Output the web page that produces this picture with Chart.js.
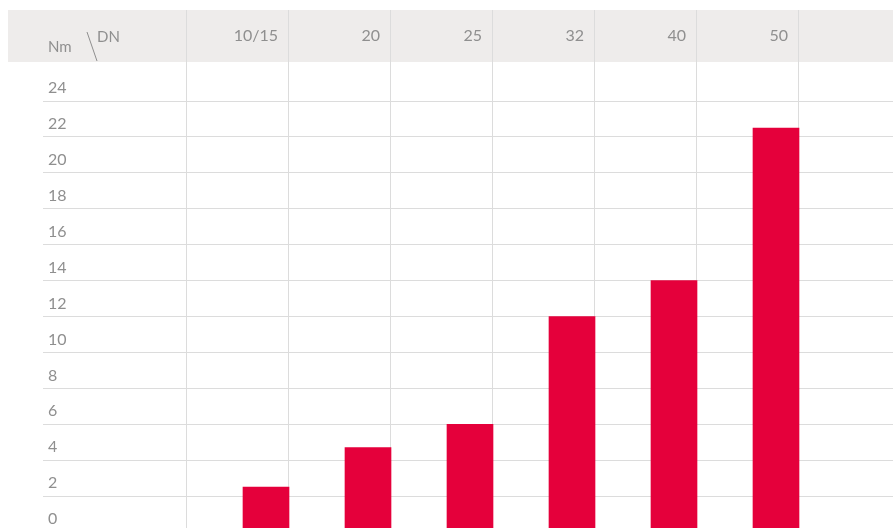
<!DOCTYPE html>
<html>
<head>
<meta charset="utf-8">
<script src="https://cdn.jsdelivr.net/npm/chart.js@4.4.1/dist/chart.umd.min.js"></script>
<style>
  html, body { margin: 0; padding: 0; background: #fff; overflow: hidden; }
  canvas { display: block; }
</style>
</head>
<body>
<canvas id="torqueChart" width="910" height="540"></canvas>
<script>
// DN sizes (last slot is the empty column on the right)
const sizes = ['10/15', '20', '25', '32', '40', '50', ''];
// torque in Nm
const torque = [2.5, 4.7, 6, 12, 14, 22.5];
const yTicks = [0, 2, 4, 6, 8, 10, 12, 14, 16, 18, 20, 22, 24];

const textColor = '#8f8f8f';
const gridColor = '#dcdcdc';
const barColor = '#e5003b';
const fontFamily = 'Lato, "Open Sans", sans-serif';

const headerPlugin = {
    id: 'header',
    beforeDraw(chart) {
        const { ctx, chartArea } = chart;
        ctx.save();
        ctx.fillStyle = '#eeeceb';
        ctx.fillRect(8, chartArea.top, chart.width, 52);
        ctx.restore();
    },
    afterDraw(chart) {
        const { ctx, chartArea } = chart;
        const top = chartArea.top;
        ctx.save();
        ctx.fillStyle = textColor;
        ctx.strokeStyle = textColor;
        ctx.textBaseline = 'middle';
        ctx.textAlign = 'left';
        ctx.font = '15px ' + fontFamily;
        ctx.fillText('Nm', 48, top + 37);
        ctx.fillText('DN', 97, top + 27);
        ctx.lineWidth = 1;
        ctx.beginPath();
        ctx.moveTo(87, top + 22);
        ctx.lineTo(97, top + 51);
        ctx.stroke();
        ctx.restore();
    }
};

function noPadding(scale) {
    scale.paddingTop = 0;
    scale.paddingBottom = 0;
    scale.paddingLeft = 0;
    scale.paddingRight = 0;
}

new Chart(document.getElementById('torqueChart'), {
    type: 'bar',
    data: {
        labels: sizes,
        datasets: [
            { label: '', data: [], backgroundColor: 'transparent' },
            {
                label: 'Nm',
                data: torque,
                backgroundColor: barColor,
                barThickness: 58,
                maxBarThickness: 46
            }
        ]
    },
    options: {
        responsive: false,
        animation: false,
        layout: { padding: { left: 48, top: 10, right: 10, bottom: 8 } },
        plugins: {
            legend: { display: false },
            tooltip: { enabled: false }
        },
        scales: {
            x: {
                position: 'top',
                border: { display: false },
                grid: { color: gridColor, offset: true, drawTicks: false },
                ticks: {
                    mirror: true,
                    align: 'end',
                    padding: 16,
                    labelOffset: 41,
                    color: textColor,
                    font: { family: fontFamily, size: 16 }
                },
                afterFit(scale) { scale.height = 0; noPadding(scale); }
            },
            y: {
                min: 0,
                max: 29.07,
                border: { display: false },
                grid: { color: gridColor, tickLength: 143 },
                afterBuildTicks(scale) {
                    scale.ticks = yTicks.map(v => ({ value: v }));
                },
                ticks: {
                    crossAlign: 'far',
                    labelOffset: -13,
                    color: textColor,
                    font: { family: fontFamily, size: 16 }
                },
                afterFit(scale) { scale.width = 138; noPadding(scale); }
            }
        }
    },
    plugins: [headerPlugin]
});
</script>
</body>
</html>
